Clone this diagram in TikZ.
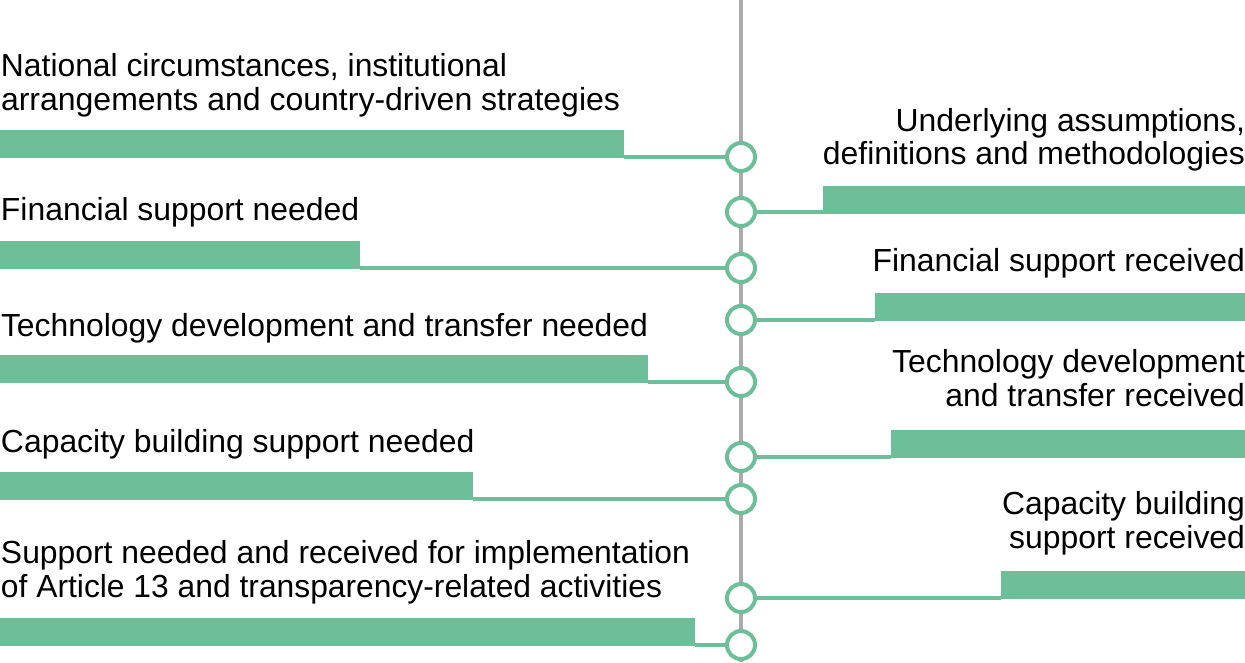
\documentclass[tikz,border=0pt]{standalone}
\usepackage{fontspec}
\setmainfont{Liberation Sans}
\usepackage{graphicx}
\definecolor{grn}{RGB}{108,191,153}
\definecolor{gry}{RGB}{170,170,170}
\tikzset{
  lbl/.style={inner sep=0pt, outer sep=0pt, font=\fontsize{31.9}{36}\selectfont, text=black},
  bar/.style={fill=grn, draw=none, inner sep=0pt, outer sep=0pt, minimum height=28pt},
  dot/.style={circle, draw=grn, line width=4pt, fill=white, minimum size=28pt, inner sep=0pt, outer sep=0pt},
  conn/.style={draw=grn, line width=3.2pt},
  spine/.style={draw=gry, line width=4pt}
}
\begin{document}
\begin{tikzpicture}[x=1pt,y=-1pt]
\useasboundingbox (0,0) rectangle (1245,662);
% spine
\coordinate (top) at (741,0);
\coordinate (bot) at (741,662);
\draw[spine] (top) -- (bot);
% left bars
\node[bar, anchor=south west, minimum width=624pt] (lb1) at (0,158) {};
\node[bar, anchor=south west, minimum width=360pt] (lb2) at (0,269) {};
\node[bar, anchor=south west, minimum width=648pt] (lb3) at (0,383) {};
\node[bar, anchor=south west, minimum width=473pt] (lb4) at (0,500) {};
\node[bar, anchor=south west, minimum width=695pt] (lb5) at (0,646) {};
% right bars
\node[bar, anchor=south east, minimum width=422pt] (rb1) at (1245,214) {};
\node[bar, anchor=south east, minimum width=370pt] (rb2) at (1245,321) {};
\node[bar, anchor=south east, minimum width=354pt] (rb3) at (1245,458) {};
\node[bar, anchor=south east, minimum width=244pt] (rb4) at (1245,599) {};
% circles
\node[dot] (c1) at (741,157) {};
\node[dot] (c2) at (741,212) {};
\node[dot] (c3) at (741,268) {};
\node[dot] (c4) at (741,320) {};
\node[dot] (c5) at (741,382) {};
\node[dot] (c6) at (741,457) {};
\node[dot] (c7) at (741,499) {};
\node[dot] (c8) at (741,598) {};
\node[dot] (c9) at (741,645) {};
% connectors
\draw[conn] (c1.west) -- (c1.west -| lb1.east);
\draw[conn] (c3.west) -- (c3.west -| lb2.east);
\draw[conn] (c5.west) -- (c5.west -| lb3.east);
\draw[conn] (c7.west) -- (c7.west -| lb4.east);
\draw[conn] (c9.west) -- (c9.west -| lb5.east);
\draw[conn] (c2.east) -- (c2.east -| rb1.west);
\draw[conn] (c4.east) -- (c4.east -| rb2.west);
\draw[conn] (c6.east) -- (c6.east -| rb3.west);
\draw[conn] (c8.east) -- (c8.east -| rb4.west);
% left texts
\node[lbl, anchor=base west] (t1a) at (1,76) {\resizebox{506pt}{\height}{National circumstances, institutional}};
\node[lbl, anchor=base west] (t1b) at (1,110) {\resizebox{619pt}{\height}{arrangements and country-driven strategies}};
\node[lbl, anchor=base west] (t2) at (1,220) {Financial support needed};
\node[lbl, anchor=base west] (t3) at (1,336) {\resizebox{647pt}{\height}{Technology development and transfer needed}};
\node[lbl, anchor=base west] (t4) at (1,452) {Capacity building support needed};
\node[lbl, anchor=base west] (t5a) at (1,563) {\resizebox{689pt}{\height}{Support needed and received for implementation}};
\node[lbl, anchor=base west] (t5b) at (1,597) {\resizebox{661pt}{\height}{of Article 13 and transparency-related activities}};
% right texts
\node[lbl, anchor=base east] (r1a) at (1245,131) {Underlying assumptions,};
\node[lbl, anchor=base east] (r1b) at (1245,164) {definitions and methodologies};
\node[lbl, anchor=base east] (r2) at (1245,271) {Financial support received};
\node[lbl, anchor=base east] (r3a) at (1245,372) {Technology development};
\node[lbl, anchor=base east] (r3b) at (1245,406) {and transfer received};
\node[lbl, anchor=base east] (r4a) at (1245,514) {Capacity building};
\node[lbl, anchor=base east] (r4b) at (1245,548) {support received};
\end{tikzpicture}
\end{document}
